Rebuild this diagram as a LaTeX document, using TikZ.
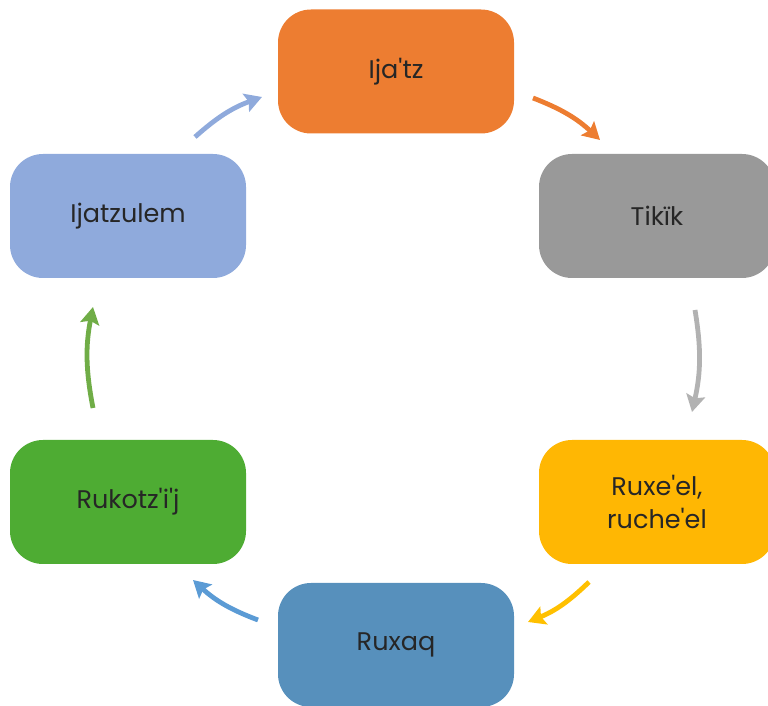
\documentclass[tikz,border=0pt]{standalone}
\usepackage{fontspec}
\setmainfont{Poppins}
\usetikzlibrary{arrows.meta}
\definecolor{cOrange}{HTML}{ED7D31}
\definecolor{cGray}{HTML}{999999}
\definecolor{cYellow}{HTML}{FFB703}
\definecolor{cBlue}{HTML}{5790BC}
\definecolor{cGreen}{HTML}{4EAC33}
\definecolor{cLBlue}{HTML}{8FAADC}
\definecolor{aGray}{HTML}{B2B2B2}
\definecolor{aYellow}{HTML}{FFC000}
\definecolor{aBlue}{HTML}{5B9BD5}
\definecolor{aGreen}{HTML}{70AD47}
\definecolor{txt}{HTML}{262626}
\newcommand{\ap}{\textquotesingle}
\tikzset{
  stagebox/.style={rounded corners=33pt, minimum width=236pt, minimum height=124pt,
    inner sep=0pt, align=center, text=txt, font=\fontsize{25.5}{33}\selectfont},
  cyc/.style={line width=4.8pt, -{Stealth[length=17pt,width=19pt,inset=3pt]}, bend left=11}
}
\begin{document}
\begin{tikzpicture}[x=1pt,y=1pt]
\useasboundingbox (0,0) rectangle (768,706);
\clip (0,0) rectangle (768,706);
\node[stagebox, fill=cOrange] (ijatz) at (396,634.5) {Ija\ap tz};
\node[stagebox, fill=cGray] (tikik) at (657,490) {Tikïk};
\node[stagebox, fill=cYellow] (ruxeel) at (657,204) {Ruxe\ap el,\\ruche\ap el};
\node[stagebox, fill=cBlue] (ruxaq) at (396,61) {Ruxaq};
\node[stagebox, fill=cGreen] (rukotz) at (128,204) {Rukotz\ap i\ap j};
\node[stagebox, fill=cLBlue] (ijatzulem) at (128,490) {Ijatzulem};

\coordinate (a1s) at (195,569); \coordinate (a1e) at (262,609);
\coordinate (a2s) at (533,608); \coordinate (a2e) at (600,566);
\coordinate (a3s) at (695,396); \coordinate (a3e) at (692,294);
\coordinate (a4s) at (589,124); \coordinate (a4e) at (528,84);
\coordinate (a5s) at (258,86);  \coordinate (a5e) at (193,126);
\coordinate (a6s) at (93,298);  \coordinate (a6e) at (93,399);

\draw[cyc, cLBlue] (a1s) to (a1e);
\draw[cyc, cOrange] (a2s) to (a2e);
\draw[cyc, aGray] (a3s) to (a3e);
\draw[cyc, aYellow] (a4s) to (a4e);
\draw[cyc, aBlue] (a5s) to (a5e);
\draw[cyc, aGreen] (a6s) to (a6e);
\end{tikzpicture}
\end{document}
